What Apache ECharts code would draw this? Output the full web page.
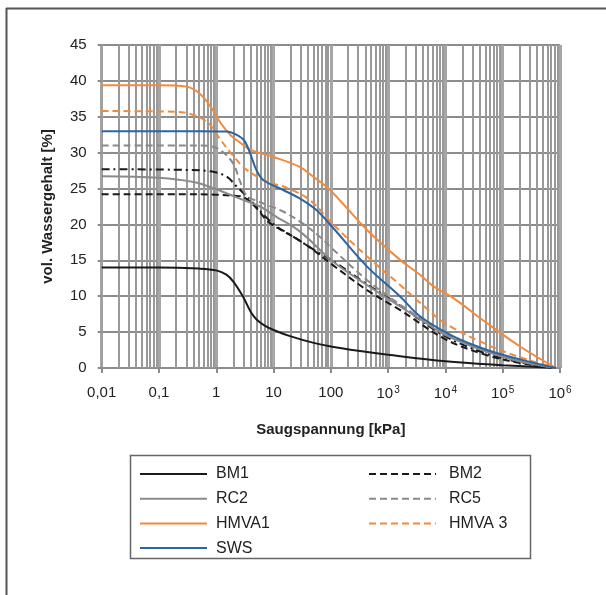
<!DOCTYPE html>
<html>
<head>
<meta charset="utf-8">
<script src="https://cdn.jsdelivr.net/npm/echarts@6/dist/echarts.min.js"></script>
<style>
  html, body { margin: 0; padding: 0; background: #fff; }
  #chart { width: 606px; height: 595px; }
</style>
</head>
<body>
<div id="chart"></div>
<script>
// Saugspannung [kPa] -> vol. Wassergehalt [%]
const BM1 = [[0.01, 14.0], [0.1, 14.0], [0.5, 13.85], [1, 13.6], [1.5, 13.0], [2, 12.0], [3, 9.8], [4, 7.8], [5, 6.8], [7, 5.9], [10, 5.3], [20, 4.4], [50, 3.5], [100, 3.0], [300, 2.4], [1000, 1.85], [10000, 0.95], [100000, 0.4], [850000, 0]];
const BM2 = [[0.01, 24.2], [0.5, 24.2], [1, 24.15], [2, 24.0], [3, 23.8], [5, 22.3], [8, 20.4], [13, 19.3], [22, 18.3], [43, 16.8], [110, 14.3], [420, 10.9], [1600, 8.1], [10000, 4.0], [52000, 1.8], [200000, 0.7], [850000, 0]];
const BM2b = [[0.01, 27.7], [0.3, 27.6], [0.8, 27.4], [1.5, 26.7], [2.2, 25.4], [3.4, 23.9], [5, 22.5], [7, 21.2], [11, 19.8], [22, 18.3], [50, 16.5], [110, 14.9], [420, 11.7], [1600, 8.7], [10000, 4.4], [52000, 2.0], [200000, 0.8], [850000, 0]];
const RC2 = [[0.01, 26.7], [0.1, 26.5], [0.4, 25.9], [1, 24.9], [2.2, 23.8], [5.8, 22.5], [10, 21.3], [29, 19.0], [110, 14.8], [420, 11.6], [1600, 8.6], [3600, 6.8], [10000, 4.6], [52000, 2.3], [200000, 0.9], [850000, 0]];
const RC5 = [[0.01, 31.0], [0.5, 31.0], [0.9, 30.8], [1.35, 30.0], [2, 28.4], [2.6, 26.0], [3.4, 24.0], [5.8, 23.1], [14.7, 21.8], [29, 20.4], [64, 18.3], [110, 16.5], [420, 12.3], [1230, 9.5], [3600, 7.0], [10000, 4.8], [52000, 2.4], [200000, 1.0], [850000, 0]];
const HMVA1 = [[0.01, 39.4], [0.1, 39.4], [0.3, 39.2], [0.5, 38.3], [0.8, 36.4], [1.2, 34.1], [1.8, 32.4], [2.6, 31.4], [4, 30.4], [10, 29.4], [29, 28.0], [50, 26.6], [85, 25.2], [150, 23.2], [420, 19.3], [1600, 15.1], [3600, 13.0], [6100, 11.4], [14000, 9.7], [52000, 6.3], [200000, 3.0], [850000, 0]];
const HMVA3 = [[0.01, 35.8], [0.2, 35.7], [0.35, 35.4], [0.55, 34.8], [0.8, 33.8], [1.16, 31.9], [2, 29.5], [3.4, 27.6], [7.5, 26.0], [17, 25.1], [43, 23.4], [110, 20.0], [420, 15.6], [1600, 11.6], [3600, 9.1], [10000, 6.2], [52000, 3.3], [200000, 1.5], [850000, 0]];
const SWS = [[0.01, 33.0], [0.5, 33.0], [1.5, 32.95], [2, 32.7], [3, 31.8], [3.9, 29.9], [5, 27.6], [6.6, 26.2], [14.7, 24.8], [29, 23.6], [56, 22.0], [110, 19.5], [420, 14.2], [1600, 10.0], [3600, 7.2], [13800, 4.4], [52000, 2.55], [200000, 1.2], [850000, 0]];

const xTicks = [0.01, 0.1, 1, 10, 100, 1000, 10000, 100000, 1000000];
const xTickLabels = ['0,01', '0,1', '1', '10', '100', '{b|10}{s|3}', '{b|10}{s|4}', '{b|10}{s|5}', '{b|10}{s|6}'];

// minor vertical grid lines 2..9 per decade
const minorLines = [];
for (let d = -2; d < 6; d++) {
    for (let k = 2; k <= 9; k++) {
        minorLines.push({ xAxis: k * Math.pow(10, d) });
    }
}

const chart = echarts.init(document.getElementById('chart'));

function line(name, data, color, type) {
    return {
        name: name,
        type: 'line',
        data: data,
        symbol: 'none',
        smooth: 0.35,
        lineStyle: { color: color, width: 2, type: type },
        itemStyle: { color: color },
        z: 5
    };
}

const font = 'Liberation Sans, Arial, sans-serif';

const legendBase = {
    orient: 'vertical',
    top: 466,
    padding: 0,
    itemWidth: 67,
    itemHeight: 14,
    itemGap: 8.7,
    itemStyle: { opacity: 0, borderWidth: 0 },
    selectedMode: false
};

const option = {
    animation: false,
    textStyle: { fontFamily: font },
    grid: { left: 101.7, right: 46, top: 45, bottom: 227, containLabel: false },
    xAxis: {
        type: 'log',
        logBase: 10,
        min: 0.01,
        max: 1000000,
        name: 'Saugspannung [kPa]',
        nameLocation: 'middle',
        nameGap: 54,
        nameTextStyle: { fontSize: 15, fontWeight: 'bold', color: '#222', fontFamily: font },
        axisLine: { show: true, lineStyle: { color: '#8c8c8c', width: 2 } },
        axisTick: { show: true, length: 5, lineStyle: { color: '#8c8c8c', width: 2 } },
        axisLabel: {
            margin: 17,
            fontSize: 15,
            color: '#222',
            formatter: function (v) {
                const i = xTicks.findIndex(t => Math.abs(Math.log10(t) - Math.log10(v)) < 1e-6);
                return i >= 0 ? xTickLabels[i] : '';
            },
            rich: {
                b: { fontSize: 15, color: '#222', fontFamily: font },
                s: { fontSize: 10, color: '#222', verticalAlign: 'top', padding: [0, 0, 8, 1], fontFamily: font }
            }
        },
        splitLine: { show: true, lineStyle: { color: '#a6a6a6', width: 3 } }
    },
    yAxis: {
        type: 'value',
        min: 0,
        max: 45,
        interval: 5,
        name: 'vol. Wassergehalt [%]',
        nameLocation: 'middle',
        nameGap: 46,
        nameTextStyle: { fontSize: 15, fontWeight: 'bold', color: '#222', fontFamily: font },
        axisLine: { show: true, lineStyle: { color: '#a0a0a0', width: 2 } },
        axisTick: { show: true, length: 4, lineStyle: { color: '#8c8c8c', width: 2 } },
        axisLabel: { margin: 15, fontSize: 15, color: '#222' },
        splitLine: { show: true, lineStyle: { color: '#8c8c8c', width: 2 } }
    },
    legend: [
        Object.assign({}, legendBase, {
            data: ['BM1', 'RC2', 'HMVA1', 'SWS'],
            left: 139,
            textStyle: { fontSize: 16, color: '#222', padding: [0, 0, 0, 4] }
        }),
        Object.assign({}, legendBase, {
            data: ['BM2', 'RC5', 'HMVA 3'],
            left: 368,
            textStyle: { fontSize: 16, color: '#222', padding: [0, 0, 0, 8] }
        })
    ],
    graphic: [
        { type: 'rect', shape: { x: 130.5, y: 455.5, width: 400, height: 103 }, style: { fill: 'none', stroke: '#666', lineWidth: 1.5 } },
        { type: 'line', shape: { x1: 6.5, y1: 8, x2: 6.5, y2: 595 }, style: { stroke: '#555', lineWidth: 2 } },
        { type: 'line', shape: { x1: 6, y1: 8.5, x2: 606, y2: 8.5 }, style: { stroke: '#555', lineWidth: 2 } }
    ],
    series: [
        {
            name: 'grid-minor',
            type: 'line',
            data: [],
            z: 1,
            markLine: {
                silent: true,
                symbol: 'none',
                label: { show: false },
                lineStyle: { color: '#999', width: 2, type: 'solid' },
                data: minorLines,
                animation: false
            }
        },
        line('BM1', BM1, '#1a1a1a', 'solid'),
        line('BM2', BM2, '#1a1a1a', [7, 4]),
        line('BM2b', BM2b, '#1a1a1a', [8, 4, 2, 4]),
        line('RC2', RC2, '#8a8a8a', 'solid'),
        line('RC5', RC5, '#8a8a8a', [7, 4]),
        line('HMVA1', HMVA1, '#f28a3c', 'solid'),
        line('HMVA 3', HMVA3, '#f28a3c', [7, 4]),
        line('SWS', SWS, '#2b65a3', 'solid')
    ]
};

chart.setOption(option);

window.addEventListener('resize', () => {
    chart.resize();
});
</script>
</body>
</html>
